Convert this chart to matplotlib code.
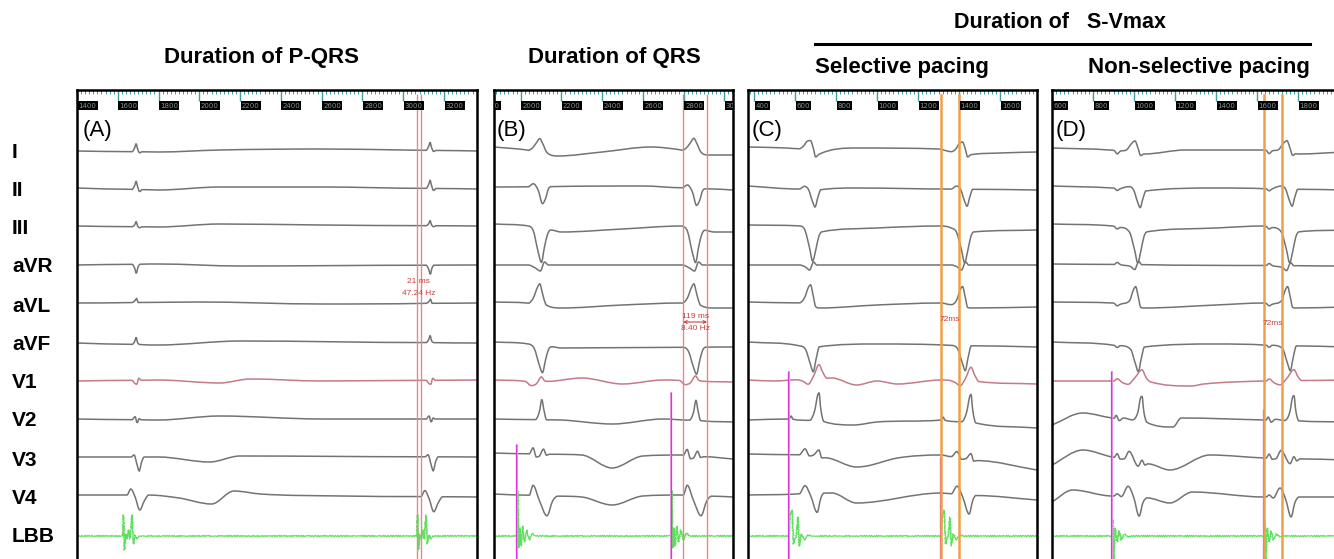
import numpy as np
import matplotlib
matplotlib.use("Agg")
import matplotlib.pyplot as plt
from matplotlib.lines import Line2D
from matplotlib.path import Path
from matplotlib.patches import PathPatch
from matplotlib.ticker import MultipleLocator

plt.rcParams['font.family'] = ['Liberation Sans', 'DejaVu Sans']

W, H = 1334, 559
leads = ['I', 'II', 'III', 'aVR', 'aVL', 'aVF', 'V1', 'V2', 'V3', 'V4', 'LBB']
label_y = [152, 190, 228, 267, 306, 344, 382, 420, 460, 498, 537]
base_y = [150, 188, 226, 265, 303, 343, 381, 419, 457, 496, 536]

panel_names = ['A', 'B', 'C', 'D']
panel_xpx = [(77, 477), (494, 733), (748, 1037), (1052, 1344)]
panel_tlim = [(1400, 3362), (1869, 3043), (371, 1780), (600, 2024)]
ruler_labels = [[1400, 1600, 1800, 2000, 2200, 2400, 2600, 2800, 3000, 3200],
                [1800, 2000, 2200, 2400, 2600, 2800, 3000],
                [400, 600, 800, 1000, 1200, 1400, 1600],
                [600, 800, 1000, 1200, 1400, 1600, 1800]]
panel_titles = ['Duration of P-QRS', 'Duration of QRS', 'Selective pacing', 'Non-selective pacing']
title_px = [(262, 57), (614, 57), (902, 67), (1199, 67)]

# ---------- Panel A (intrinsic) ----------
beats_A = [1625, 3067]
tmpl_A = {
    'I':   [(45, 0), (58, -4), (65, -8), (72, -3), (82, 1), (95, 0)],
    'II':  [(45, 0), (58, -4), (65, -8), (72, -3), (82, 2), (95, 0)],
    'III': [(45, 0), (58, -2), (65, -5), (72, -1), (82, 1), (95, 0)],
    'aVR': [(45, 0), (58, 4), (66, 9), (74, 3), (85, 0)],
    'aVL': [(45, 0), (60, -2), (67, -4), (75, 0)],
    'aVF': [(45, 0), (58, -3), (65, -7), (72, -2), (85, 0)],
    'V1':  [(45, 0), (58, 3), (68, 4), (78, -2), (90, 0)],
    'V2':  [(45, 0), (60, -3), (70, 3), (80, -1), (90, 0)],
    'V3':  [(40, 0), (55, -2), (70, 8), (80, 14), (92, 5), (105, 0)],
    'V4':  [(20, 0), (39, -6), (60, 2), (83, 15), (105, 6), (127, 0)],
    'LBB': [(0, 0), (3, -21), (8, 14), (14, -2), (20, 3), (28, -6), (35, 3),
            (45, -21), (52, 8), (60, -1), (70, 3), (80, 0)],
}
drift_A = {
    'I':   [(1400, 151), (1800, 152), (2100, 150), (2600, 149), (3000, 150), (3362, 151)],
    'II':  [(1400, 188), (1800, 190), (2100, 187), (2600, 187), (3362, 189)],
    'III': [(1400, 226), (1800, 227), (2100, 224), (2600, 225), (3362, 226)],
    'aVR': [(1400, 265), (1800, 264), (2200, 266), (3362, 265)],
    'aVL': [(1400, 303), (2000, 302), (2600, 304), (3362, 303)],
    'aVF': [(1400, 343), (1800, 345), (2200, 341), (3362, 343)],
    'V1':  [(1400, 381), (1800, 380), (2100, 383), (2250, 379), (2600, 381), (3362, 380)],
    'V2':  [(1400, 419), (1800, 420), (2100, 416), (2600, 419), (3362, 419)],
    'V3':  [(1400, 457), (1800, 457), (2050, 462), (2200, 456), (3362, 457)],
    'V4':  [(1400, 495), (1750, 495), (1900, 498), (2060, 504), (2170, 491),
            (2300, 494), (2700, 496), (3362, 497)],
}

# ---------- Panel B ----------
beats_B = [1982, 2739]
tmpl_B = {
    'I':   [(55, 0), (75, -3), (95, -9), (112, -14), (125, -10), (145, -2), (160, 0)],
    'II':  [(55, 0), (80, -3), (105, 4), (125, 17), (140, 12), (155, 2), (170, 0)],
    'III': [(55, 0), (80, 4), (105, 25), (120, 34), (135, 18), (150, 5), (165, 0)],
    'aVR': [(55, 0), (90, 3), (115, 6), (135, -3), (155, 0)],
    'aVL': [(55, 0), (80, -6), (100, -17), (112, -21), (125, -12), (140, -2), (155, 0)],
    'aVF': [(55, 0), (85, 4), (110, 20), (125, 27), (140, 14), (155, 3), (170, 0)],
    'V1':  [(40, 0), (70, 4), (95, 2), (120, -5), (135, -1), (150, 0)],
    'V2':  [(90, 0), (110, -8), (122, -20), (132, -10), (145, 0)],
    'V3':  [(60, 0), (79, -6), (95, 3), (110, 2), (130, -5), (145, 1), (160, 0)],
    'V4':  [(60, 0), (79, -10), (110, 5), (147, 20), (175, 5), (200, 0)],
    'LBB': [(0, 0), (3, -45), (8, 12), (14, -8), (20, 10), (28, -10), (36, 6),
            (48, -6), (60, 4), (75, -3), (90, 0)],
}
drift_B = {
    'I':   [(1869, 147), (2030, 150), (2180, 156), (2400, 152), (2640, 147), (2790, 150),
            (2920, 155), (3043, 155)],
    'II':  [(1869, 187), (2600, 186), (3043, 190)],
    'III': [(1869, 224), (2040, 226), (2200, 232), (2500, 229), (2790, 226), (2950, 232), (3043, 232)],
    'aVR': [(1869, 265), (3043, 265)],
    'aVL': [(1869, 302), (2030, 303), (2200, 308), (2500, 305), (2790, 303), (2950, 308), (3043, 308)],
    'aVF': [(1869, 342), (2040, 344), (2200, 348), (3043, 347)],
    'V1':  [(1869, 380), (2100, 382), (2300, 378), (2500, 384), (2700, 380), (3043, 382)],
    'V2':  [(1869, 419), (2200, 420), (2450, 424), (2700, 419), (3043, 422)],
    'V3':  [(1869, 453), (2300, 455), (2449, 468), (2600, 456), (2790, 455), (3043, 459)],
    'V4':  [(1869, 494), (2300, 497), (2449, 505), (2600, 496), (2790, 495), (3043, 497)],
}

# ---------- Panel C (selective) ----------
beats_C = [571, 1312]
tmpl_C = {
    'I':   [(50, 0), (70, -3), (90, -10), (105, -12), (118, -6), (130, 2), (145, 0)],
    'II':  [(50, 0), (75, -3), (95, 0), (115, 12), (127, 17), (140, 8), (155, 0)],
    'III': [(50, 0), (75, 3), (100, 20), (115, 32), (130, 20), (145, 5), (160, 0)],
    'aVR': [(50, 0), (80, 2), (100, 5), (120, -3), (135, 0)],
    'aVL': [(50, 0), (75, -5), (95, -17), (105, -20), (118, -10), (130, 0)],
    'aVF': [(50, 0), (80, 3), (105, 18), (118, 25), (132, 12), (148, 0)],
    'V1':  [(40, 0), (70, 2), (93, 5), (120, -3), (146, -14), (165, -6), (185, 0)],
    'V2':  [(0, 0), (10, -3), (20, 0), (100, 0), (125, -10), (140, -26), (146, -28), (155, -12), (170, 0)],
    'V3':  [(50, 0), (78, -6), (100, 1), (120, 0), (146, -6), (160, 1), (175, 0)],
    'V4':  [(50, 0), (78, -8), (105, 2), (137, 19), (155, 5), (170, 0)],
    'LBB': [(0, 0), (5, -20), (15, -26), (22, 8), (35, 0), (44, -19), (50, 10),
            (60, -2), (75, 4), (90, -1), (110, 0)],
}
drift_C = {
    'I':   [(371, 147), (560, 148), (640, 149), (700, 155), (900, 148), (1300, 149),
            (1440, 155), (1600, 153), (1780, 152)],
    'II':  [(371, 186), (700, 190), (900, 188), (1780, 190)],
    'III': [(371, 225), (650, 226), (720, 232), (1000, 228), (1312, 226), (1460, 232), (1780, 230)],
    'aVR': [(371, 265), (1780, 265)],
    'aVL': [(371, 302), (650, 303), (720, 308), (1000, 305), (1312, 303), (1460, 308), (1780, 307)],
    'aVF': [(371, 342), (700, 347), (1000, 344), (1780, 347)],
    'V1':  [(371, 380), (500, 381), (780, 378), (900, 385), (1000, 381), (1100, 384),
            (1312, 380), (1780, 384)],
    'V2':  [(371, 420), (570, 419), (720, 421), (885, 425), (1000, 422), (1312, 420), (1780, 428)],
    'V3':  [(371, 454), (700, 455), (900, 467), (950, 466), (1100, 458), (1312, 455), (1780, 470)],
    'V4':  [(371, 495), (780, 493), (900, 503), (1312, 493), (1780, 500)],
}

# ---------- Panel D (non-selective) ----------
beats_D = [893, 1634]
tmpl_D = {
    'I':   [(10, 0), (25, 3), (40, 0), (70, -2), (95, -9), (112, -12), (125, -6), (140, 2), (155, 0)],
    'II':  [(10, 0), (25, 2), (40, 0), (85, -3), (105, 0), (125, 12), (137, 17), (150, 8), (165, 0)],
    'III': [(10, 0), (25, 2), (40, 0), (85, 3), (110, 20), (125, 32), (140, 20), (155, 5), (170, 0)],
    'aVR': [(10, 0), (25, -2), (40, 0), (90, 2), (110, 5), (130, -3), (145, 0)],
    'aVL': [(10, 0), (25, 2), (40, 0), (85, -5), (105, -17), (115, -20), (128, -10), (140, 0)],
    'aVF': [(10, 0), (25, 2), (40, 0), (90, 3), (115, 18), (128, 25), (142, 12), (158, 0)],
    'V1':  [(10, 0), (25, -2), (50, 2), (78, 4), (110, -2), (146, -11), (165, -4), (185, 0)],
    'V2':  [(10, 0), (20, -3), (35, 2), (55, -1), (100, 0), (125, -8), (140, -24), (146, -25),
            (155, -10), (170, 0)],
    'V3':  [(10, 0), (25, -4), (40, 1), (60, 0), (83, -8), (127, 5), (146, -2), (160, 2), (175, 0)],
    'V4':  [(10, 0), (25, -2), (45, 1), (78, -9), (105, 2), (132, 20), (150, 6), (171, 0)],
    'LBB': [(0, 0), (3, -17), (8, 25), (15, -8), (25, 6), (35, -5), (45, 4), (60, -2), (80, 1), (100, 0)],
}
drift_D = {
    'I':   [(600, 148), (880, 150), (1050, 154), (1250, 150), (1634, 150), (1800, 154), (2024, 152)],
    'II':  [(600, 186), (893, 188), (1050, 191), (1400, 188), (2024, 190)],
    'III': [(600, 224), (893, 226), (1050, 232), (1400, 228), (1634, 226), (1790, 232), (2024, 230)],
    'aVR': [(600, 264), (2024, 266)],
    'aVL': [(600, 302), (893, 303), (1050, 308), (1400, 305), (1634, 303), (1790, 308), (2024, 307)],
    'aVF': [(600, 342), (1050, 347), (1400, 344), (2024, 347)],
    'V1':  [(600, 381), (893, 381), (1000, 380), (1280, 386), (1340, 384), (1634, 381), (2024, 380)],
    'V2':  [(600, 425), (750, 413), (893, 418), (1000, 420), (1190, 427), (1230, 418), (1634, 420), (2024, 422)],
    'V3':  [(600, 465), (750, 450), (893, 457), (1000, 460), (1175, 470), (1370, 455), (1634, 458), (2024, 460)],
    'V4':  [(600, 502), (700, 490), (893, 496), (1000, 495), (1175, 503), (1285, 492), (1634, 497), (2024, 497)],
}

# stimulus artefacts (time ms, top px)
stims = {'A': [], 'B': [(1982, 445), (2739, 393)], 'C': [(571, 372), (1312, 458)], 'D': [(893, 372), (1634, 410)]}
# calipers (ms)
calipers = {'A': (3067, 3086), 'B': (2798, 2916), 'C': (1312, 1400), 'D': (1634, 1722)}
caliper_text = {'A': ['21 ms', '47.24 Hz'], 'B': ['119 ms', '8.40 Hz'], 'C': ['72ms'], 'D': ['72ms']}
caliper_text_y = {'A': [281, 293], 'B': [316, 328], 'C': [319], 'D': [323]}

beats = {'A': beats_A, 'B': beats_B, 'C': beats_C, 'D': beats_D}
tmpls = {'A': tmpl_A, 'B': tmpl_B, 'C': tmpl_C, 'D': tmpl_D}
drifts = {'A': drift_A, 'B': drift_B, 'C': drift_C, 'D': drift_D}

GRAY = '#737373'
V1COL = '#c47a88'
LBBCOL = '#5ee05e'
TEAL = '#3f9f9f'


def build(drift, tmpl, bts):
    dt = np.array([p[0] for p in drift], float)
    dy = np.array([p[1] for p in drift], float)
    wins = [(b + tmpl[0][0], b + tmpl[-1][0]) for b in bts]
    pts = [(t, y) for t, y in drift if not any(a <= t <= c for a, c in wins)]
    for b in bts:
        for d, v in tmpl:
            pts.append((b + d, float(np.interp(b + d, dt, dy)) + v))
    pts.sort()
    return np.array([p[0] for p in pts]), np.array([p[1] for p in pts])


def smooth_path(xs, ys):
    """Cubic Bezier path through the knots (Hermite, flat at local extrema)."""
    n = len(xs)
    s = np.diff(ys) / np.diff(xs)
    d = np.zeros(n)
    for i in range(1, n - 1):
        if s[i - 1] * s[i] > 0:
            d[i] = np.sign(s[i]) * min(abs(s[i - 1] + s[i]) / 2, 3 * min(abs(s[i - 1]), abs(s[i])))
    d[0], d[-1] = s[0], s[-1]
    verts = [(xs[0], ys[0])]
    codes = [Path.MOVETO]
    for i in range(n - 1):
        h = xs[i + 1] - xs[i]
        verts += [(xs[i] + h / 3, ys[i] + d[i] * h / 3),
                  (xs[i + 1] - h / 3, ys[i + 1] - d[i + 1] * h / 3),
                  (xs[i + 1], ys[i + 1])]
        codes += [Path.CURVE4] * 3
    return Path(verts, codes)


fig = plt.figure(figsize=(W / 100, H / 100), dpi=100)

for i, name in enumerate(panel_names):
    x0, x1 = panel_xpx[i]
    t0, t1 = panel_tlim[i]
    ax = fig.add_axes([x0 / W, (H - 569) / H, (x1 - x0) / W, (569 - 90) / H])
    ax.set_xlim(t0, t1)
    ax.set_ylim(569, 90)
    for sp in ax.spines.values():
        sp.set_linewidth(1.8)
        sp.set_color('black')
    ax.set_yticks([])
    ax.xaxis.set_major_locator(MultipleLocator(200))
    ax.xaxis.set_minor_locator(MultipleLocator(20))
    ax.tick_params(axis='x', which='both', top=True, bottom=False, labeltop=False,
                   labelbottom=False, direction='in', color=TEAL)
    ax.tick_params(axis='x', which='major', length=8, width=1.0)
    ax.tick_params(axis='x', which='minor', length=3, width=0.7)
    ax.set_xlim(t0, t1)
    # ruler labels
    for tk in ruler_labels[i]:
        ax.text(tk + 8, 105.5, f'{tk}', fontsize=5, color='#7f9494', ha='left', va='center',
                bbox=dict(boxstyle='square,pad=0.15', fc='black', ec='none'), clip_on=True,
                family='DejaVu Sans')
    ax.text(0.013, 0.915, f'({name})', transform=ax.transAxes, fontsize=16, ha='left', va='center')

    # traces
    for j, ld in enumerate(leads):
        if ld == 'LBB':
            drift = [(t0, base_y[j]), (t1, base_y[j])]
            xs, ys = build(drift, tmpls[name][ld], beats[name])
            ln, = ax.plot(xs, ys, color=LBBCOL, lw=0.9)
            ln.set_sketch_params(scale=0.7, length=2.5, randomness=1.5)
        else:
            xs, ys = build(drifts[name][ld], tmpls[name][ld], beats[name])
            col = V1COL if ld == 'V1' else GRAY
            ax.add_patch(PathPatch(smooth_path(xs, ys), fc='none', ec=col, lw=1.1))

    # stimulus artefacts
    for ts, ytop in stims[name]:
        ax.plot([ts, ts], [ytop, 569], color='#e59ae5', lw=1.4)
        ax.plot([ts - 3, ts - 3], [ytop, 569], color='#dd33dd', lw=0.9)

    # calipers
    ca, cb = calipers[name]
    ccol = '#e08a8a' if name in ('A', 'B') else '#f0a048'
    clw = 1.0 if name in ('A', 'B') else 1.8
    for tc in (ca, cb):
        ax.axvline(tc, color=ccol, lw=clw, ymax=0.99)
    tcx = (ca + cb) / 2
    for s, yy in zip(caliper_text[name], caliper_text_y[name]):
        ax.text(tcx, yy, s, fontsize=6, color='#c84040', ha='center', va='center')
    if name == 'B':
        ax.annotate('', xy=(ca, 322), xytext=(cb, 322),
                    arrowprops=dict(arrowstyle='<->', color='#d04040', lw=0.8,
                                    mutation_scale=5, shrinkA=0, shrinkB=0))

# titles
for s, (tx, ty) in zip(panel_titles, title_px):
    fig.text(tx / W, 1 - ty / H, s, fontsize=16, fontweight='bold', ha='center', va='center')
fig.text(1060 / W, 1 - 22 / H, 'Duration of   S-Vmax', fontsize=15.5, fontweight='bold',
         ha='center', va='center')
fig.add_artist(Line2D([815 / W, 1310 / W], [1 - 44 / H, 1 - 44 / H], color='black', lw=2.2))

# lead labels
for ld, ly in zip(leads, label_y):
    fig.text(12 / W, 1 - ly / H, ld, fontsize=15, fontweight='bold', ha='left', va='center')

fig.savefig('out.png', dpi=100)
